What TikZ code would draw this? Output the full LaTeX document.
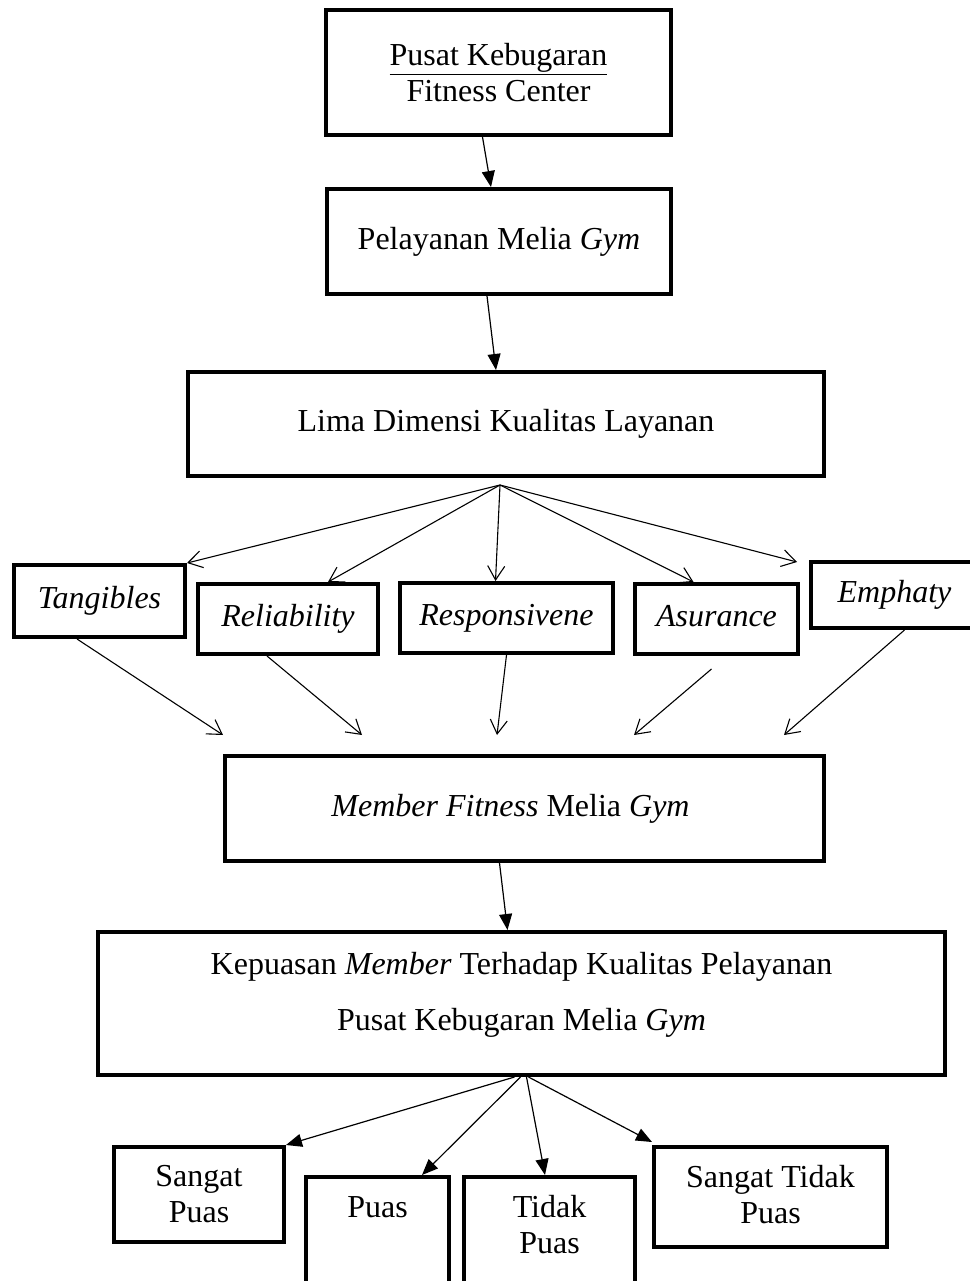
\documentclass[tikz,border=0pt]{standalone}
\usepackage{fontspec}
\setmainfont{Liberation Serif}
\usetikzlibrary{arrows.meta}
\begin{document}
\begin{tikzpicture}[x=1pt,y=-1pt,
  box/.style={draw, line width=4pt, rectangle, inner sep=0pt, align=center,
    font=\fontsize{32}{36}\selectfont},
  txt/.style={inner sep=0pt, align=center, font=\fontsize{32}{36}\selectfont},
  fillarrow/.style={-{Triangle[length=16pt,width=13pt]}, line width=1.2pt},
  openarrow/.style={-{Straight Barb[length=14pt,width=17pt]}, line width=1.1pt}]
\useasboundingbox (0,0) rectangle (969,1281);

% boxes
\node[box, minimum width=345pt, minimum height=125pt] (top) at (498.5,72.5)
  {\underline{Pusat Kebugaran}\\Fitness Center};
\node[box, minimum width=344pt, minimum height=105pt] (pel) at (499,241.5)
  {Pelayanan Melia \textit{Gym}};
\node[box, minimum width=636pt, minimum height=104pt] (lima) at (506,424)
  {Lima Dimensi Kualitas Layanan};
\node[box, minimum width=171pt, minimum height=72pt] (tang) at (99.5,601)
  {\textit{Tangibles}};
\node[box, minimum width=180pt, minimum height=70pt] (rel) at (288,619)
  {\textit{Reliability}};
\node[box, minimum width=213pt, minimum height=70pt] (resp) at (506.5,618)
  {\textit{Responsivene}};
\node[box, minimum width=163pt, minimum height=70pt] (asur) at (716.5,619)
  {\textit{Asurance}\vphantom{y}};
\node[box, minimum width=167pt, minimum height=66pt] (emph) at (894.5,595)
  {\textit{Emphaty}};
\node[box, minimum width=599pt, minimum height=105pt] (mem) at (524.5,808.5) {};
\node[txt] (memtxt) at (510.5,808.5) {\textit{Member Fitness} Melia \textit{Gym}};
\node[box, minimum width=847pt, minimum height=143pt] (kep) at (521.5,1003.5) {};
\node[txt] (keptxt) at (521.5,995)
  {Kepuasan \textit{Member} Terhadap Kualitas Pelayanan\\[20pt]Pusat Kebugaran Melia \textit{Gym}};
\node[box, minimum width=170pt, minimum height=95pt] (sp) at (199,1194.5)
  {Sangat\\Puas};
\node[box, minimum width=143pt, minimum height=121pt] (puas) at (377.5,1237.5) {};
\node[txt] (puastxt) at (377.5,1207) {Puas};
\node[box, minimum width=171pt, minimum height=121pt] (tidak) at (549.5,1237.5) {};
\node[txt] (tidaktxt) at (549.5,1225) {Tidak\\Puas};
\node[box, minimum width=233pt, minimum height=100pt] (stp) at (770.5,1197) {};
\node[txt] (stptxt) at (770.5,1195) {Sangat Tidak\\Puas};

% vertical chain
\draw[fillarrow] ([xshift=-16pt]top.south) -- ([xshift=-8pt]pel.north);
\draw[fillarrow] ([xshift=-12pt]pel.south) -- ([xshift=-10pt]lima.north);
\draw[fillarrow] ([xshift=-25pt]mem.south) -- ([xshift=-14pt]kep.north);

% fan from Lima
\coordinate (lf) at ([xshift=-6pt,yshift=-7pt]lima.south);
\draw[openarrow] (lf) -- (tang.north east);
\draw[openarrow] (lf) -- ([xshift=40pt]rel.north);
\draw[openarrow] (lf) -- ([xshift=-11pt]resp.north);
\draw[openarrow] (lf) -- ([xshift=-23pt]asur.north);
\draw[openarrow] (lf) -- ([xshift=-12pt,yshift=-2pt]emph.north west);

% into Member
\draw[openarrow] ([xshift=-22.5pt]tang.south) -- ([yshift=19pt]mem.north west);
\draw[openarrow] ([xshift=-21pt]rel.south) -- ([xshift=139pt,yshift=19pt]mem.north west);
\draw[openarrow] (resp.south) -- ([xshift=274pt,yshift=19pt]mem.north west);
\draw[openarrow] ([xshift=-5pt,yshift=-13pt]asur.south) -- ([xshift=411pt,yshift=19pt]mem.north west);
\draw[openarrow] ([xshift=10pt]emph.south) -- ([xshift=561pt,yshift=19pt]mem.north west);

% fan from Kepuasan
\draw[fillarrow] ([xshift=-7pt]kep.south) -- (sp.north east);
\draw[fillarrow] ([xshift=-1pt]kep.south) -- ([xshift=44.5pt]puas.north);
\draw[fillarrow] ([xshift=5pt]kep.south) -- ([xshift=-4.5pt]tidak.north);
\draw[fillarrow] ([xshift=7pt]kep.south) -- ([yshift=3pt]stp.north west);
\end{tikzpicture}
\end{document}
